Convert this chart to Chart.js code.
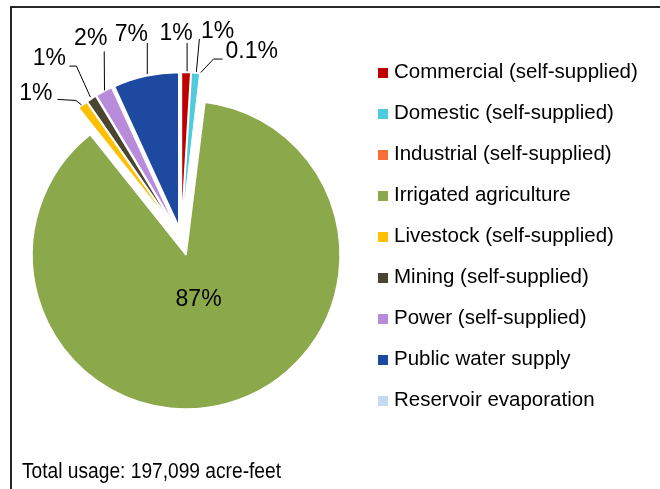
<!DOCTYPE html>
<html><head><meta charset="utf-8">
<script src="https://cdn.jsdelivr.net/npm/chart.js@4.4.0/dist/chart.umd.min.js"></script>
<style>html,body{margin:0;padding:0;background:#fff;} canvas{display:block;}</style>
</head><body>
<canvas id="c" width="660" height="489"></canvas>
<script>
// ---- data ----
const categories = ['Commercial (self-supplied)','Domestic (self-supplied)','Industrial (self-supplied)','Irrigated agriculture','Livestock (self-supplied)','Mining (self-supplied)','Power (self-supplied)','Public water supply','Reservoir evaporation'];
const usage = [1900, 1750, 200, 172149, 2050, 2050, 3500, 13500, 0];
const percentLabels = ['1%','1%','0.1%','87%','1%','1%','2%','7%',''];

// ---- style ----
const sliceColors = ['#C00000','#4FCBDB','#FA6E38','#8BA84A','#FFC000','#4A4530','#B88BDB','#1E49A0','#C5D9F1'];
const explodePx = [11, 11, 11, 18.4, 11, 11, 11, 11, 11];
const R = 154;
const W = 660, H = 489;
const CX = 181.1, CY = 237.3;
const FONT = '20.5px "Liberation Sans", Arial, sans-serif';
const LABEL_FONT = '23px "Liberation Sans", Arial, sans-serif';
// label placement relative to each slice's outer mid point
const labelLayout = [
  {dx:-10,   dy:-32.4, path:[[1,-1],[1,-29.4]]},
  {dx:22,    dy:-35,   path:[[0.7,-1],[3.7,-34]]},
  {dx:51,    dy:-15.4, path:[[0,-1],[12.7,-14.4],[21.7,-14.4]]},
  null,
  {dx:-46.8, dy:-4.5,  path:[[-1,0],[-6.8,-4.5],[-25,-5.5]]},
  {dx:-42,   dy:-33.7, path:[[-1,-1.7],[-15,-32.7],[-22,-32.7]]},
  {dx:-13.3, dy:-46,   path:[[0.5,-1],[0.2,-40]]},
  {dx:-14.6, dy:-35.2, path:[[1.4,-2],[1.4,-33.2]]},
  null
];

const total = usage.reduce((a, b) => a + b, 0);

const frame = {
  id: 'frame',
  beforeDraw(chart) {
    const ctx = chart.ctx;
    ctx.save();
    ctx.fillStyle = '#fff';
    ctx.fillRect(0, 0, W, H);
    ctx.strokeStyle = '#111';
    ctx.lineWidth = 1.8;
    ctx.strokeRect(11, 7, 720, 600);
    ctx.restore();
  }
};

// exploded slices: each arc element is drawn by the library, shifted along its bisector
const explode = {
  id: 'explode',
  beforeDatasetDraw(chart, args) {
    const ctx = chart.ctx;
    const meta = args.meta;
    meta.data.forEach((el, i) => {
      if (el.circumference === 0) return;
      const mid = (el.startAngle + el.endAngle) / 2;
      ctx.save();
      ctx.translate(Math.cos(mid) * explodePx[i], Math.sin(mid) * explodePx[i]);
      el.draw(ctx, chart.chartArea);
      ctx.restore();
    });
    return false;
  }
};

const annotations = {
  id: 'annotations',
  afterDraw(chart) {
    const ctx = chart.ctx;
    const meta = chart.getDatasetMeta(0);
    ctx.save();
    ctx.font = LABEL_FONT;
    ctx.fillStyle = '#000';
    ctx.strokeStyle = '#000';
    ctx.lineWidth = 1;
    meta.data.forEach((el, i) => {
      if (!percentLabels[i]) return;
      const mid = (el.startAngle + el.endAngle) / 2;
      const t = explodePx[i];
      const ux = Math.cos(mid), uy = Math.sin(mid);
      if (!labelLayout[i]) {
        const cx = el.x + ux * t, cy = el.y + uy * t;
        ctx.textAlign = 'center';
        ctx.textBaseline = 'middle';
        ctx.fillText(percentLabels[i], cx + ux * 46, cy + uy * 46);
        return;
      }
      const ax = el.x + ux * (t + el.outerRadius), ay = el.y + uy * (t + el.outerRadius);
      const L = labelLayout[i];
      ctx.beginPath();
      L.path.forEach((p, k) => {
        const px = ax + p[0], py = ay + p[1];
        if (k === 0) ctx.moveTo(px, py); else ctx.lineTo(px, py);
      });
      ctx.stroke();
      ctx.textAlign = 'center';
      ctx.textBaseline = 'alphabetic';
      ctx.fillText(percentLabels[i], ax + L.dx, ay + L.dy);
    });

    // legend
    ctx.font = FONT;
    ctx.textAlign = 'left';
    ctx.textBaseline = 'alphabetic';
    categories.forEach((name, i) => {
      const y = 78 + i * 41;
      ctx.fillStyle = sliceColors[i];
      ctx.fillRect(378, y - 10, 10, 10);
      ctx.fillStyle = '#000';
      ctx.fillText(name, 394, y);
    });

    // total note
    const note = 'Total usage: ' + total.toLocaleString('en-US') + ' acre-feet';
    ctx.font = '22.5px "Liberation Sans Narrow", "Arial Narrow", "Liberation Sans", Arial, sans-serif';
    const w = ctx.measureText(note).width;
    const target = 259;
    ctx.translate(22, 478);
    ctx.scale(target / w, 1);
    ctx.fillStyle = '#000';
    ctx.fillText(note, 0, 0);
    ctx.restore();
  }
};

new Chart(document.getElementById('c'), {
  type: 'pie',
  data: {
    labels: categories,
    datasets: [{
      data: usage,
      backgroundColor: sliceColors,
      borderColor: '#fff',
      borderWidth: 1.5,
      offset: 0,
      hoverOffset: 0
    }]
  },
  options: {
    responsive: false,
    animation: false,
    devicePixelRatio: 1,
    events: [],
    radius: R,
    layout: { padding: { left: 0, top: 0, right: W - 2 * CX, bottom: H - 2 * CY } },
    plugins: { legend: { display: false }, tooltip: { enabled: false }, title: { display: false } }
  },
  plugins: [frame, explode, annotations]
});
</script>
</body></html>
